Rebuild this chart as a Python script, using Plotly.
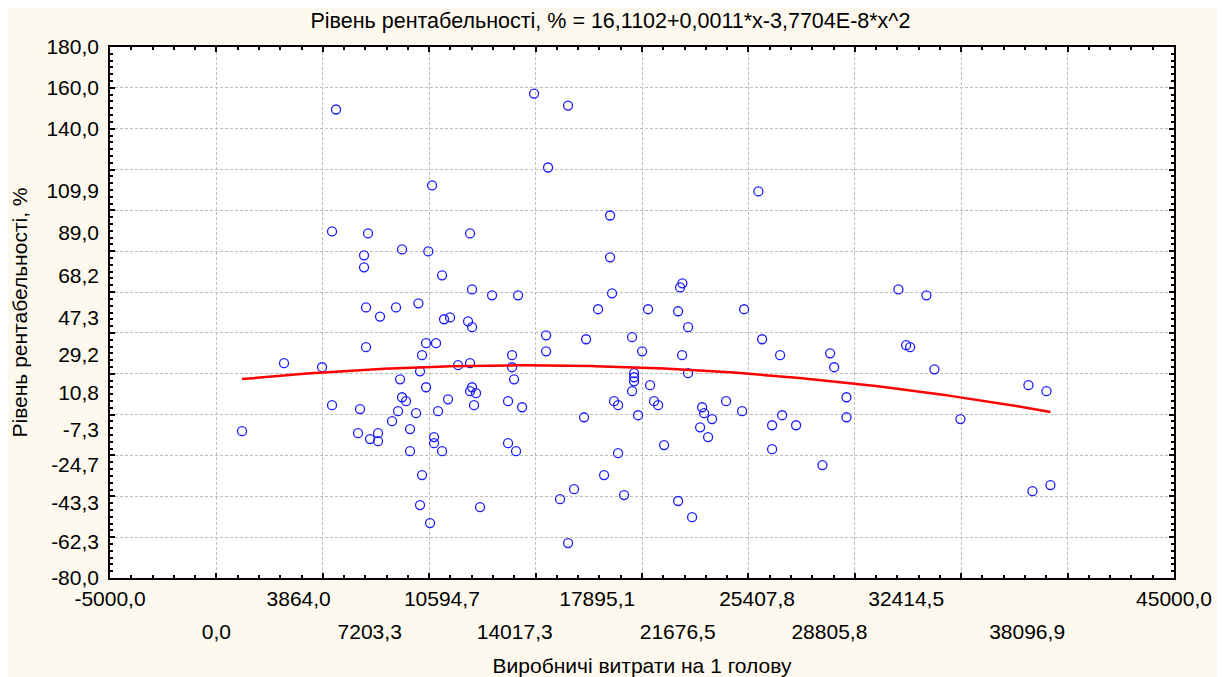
import plotly.graph_objects as go

# ---- data ----
cost_per_head = [
    5622, 10134, 5434, 7126, 8724, 9960, 6938, 6938, 10604, 7032, 8442, 9492, 7690,
    10698, 10980, 7032, 9852, 10322, 9664, 3178, 4964, 11356, 9570, 8630, 9852, 5434,
    8724, 8912, 10886, 6750, 8536, 9382, 10416, 8254, 1204, 6656, 7596, 7220, 7596,
    9100, 10228, 10228, 9100, 10604, 9664, 9570, 10040,
    14928, 16526, 15586, 25470, 18500, 11920, 18500, 12014, 12954, 14176, 18594,
    21898, 21790, 17936, 20286, 21696, 24798,
    11826, 12014, 22166, 15492, 17372, 19534, 25644, 15492, 20004, 13894, 21884, 26490,
    11920, 13894, 19628, 19628, 22166, 13988, 19628, 20380, 12014, 11920, 12202, 19534,
    13706, 18688, 20568, 23952, 12108, 14364, 18876, 20756, 22824, 24704, 17278, 19816,
    22918, 23294, 26584, 22730, 26114, 27242, 23106, 13706, 14082, 21038, 26114, 18876,
    18218, 16808, 16150, 19158, 21696, 12390, 22354, 16526,
    32050, 33366, 28840, 29028, 32412, 32600, 33742, 29608, 29608, 28480, 34964,
    38160, 39006, 38348, 39194,
]
profitability = [
    149.4, 112.2, 89.7, 88.7, 80.9, 79.9, 78.0, 72.1, 68.2, 52.5, 52.5, 54.5, 48.0,
    46.7, 47.6, 33.0, 35.0, 35.0, 29.1, 25.2, 23.2, 24.2, 21.2, 17.3, 13.4, 4.6,
    8.5, 6.6, 7.5, 2.7, 1.7, 0.7, 1.7, -3.2, -8.1, -9.1, -9.1, -12.0, -13.0,
    -7.1, -11.0, -14.0, -17.9, -17.9, -29.6, -44.3, -53.1,
    157.2, 151.3, 121.0, 109.3, 97.5, 88.7, 77.0, 61.3, 58.4, 58.4, 59.4,
    64.3, 62.3, 51.6, 51.6, 50.6, 51.6,
    45.7, 42.8, 42.8, 38.8, 36.9, 37.9, 36.9, 31.0, 31.0, 29.1, 29.1, 29.1,
    25.2, 23.2, 20.3, 18.3, 20.3, 17.3, 16.3, 14.4, 13.4, 11.5, 10.5, 11.5,
    6.6, 6.6, 6.6, 6.6, 4.6, 3.6, 4.6, 4.6, 3.6, 1.7, -1.3, -0.3,
    0.7, -2.2, -0.3, -6.2, -5.2, -5.2, -11.0, -14.0, -17.9, -14.9, -16.9, -18.9,
    -29.6, -36.5, -41.4, -39.4, -42.3, -45.3, -50.2, -62.9,
    61.3, 58.4, 30.0, 23.2, 34.0, 33.0, 22.2, 8.5, -1.3, -24.7, -2.2,
    14.4, 11.5, -37.5, -34.5,
]

# regression coefficients from the chart title
b0, b1, b2 = 16.1102, 0.0011, -3.7704e-8

x_ticks_row1 = [-5000.0, 3864.0, 10594.7, 17895.1, 25407.8, 32414.5, 45000.0]
x_ticks_row2 = [0.0, 7203.3, 14017.3, 21676.5, 28805.8, 38096.9]
y_ticks = [-80.0, -62.3, -43.3, -24.7, -7.3, 10.8, 29.2, 47.3, 68.2, 89.0, 109.9, 140.0, 160.0, 180.0]

TITLE = "Рівень рентабельності, % = 16,1102+0,0011*x-3,7704E-8*x^2"
X_TITLE = "Виробничі витрати на 1 голову"
Y_TITLE = "Рівень рентабельності, %"


def fmt(v):
    return f"{v:.1f}".replace(".", ",")


FONT = "Liberation Sans, Arial, sans-serif"
FS = 21
X_RANGE = [-5000, 45000]
Y_RANGE = [-80, 180]

# the page body has an 8px margin, so the figure is offset by 8px
W, H = 1217, 669

# fitted curve over the observed x span
xmin, xmax = min(cost_per_head), max(cost_per_head)
n = 200
fit_x = [xmin + (xmax - xmin) * i / (n - 1) for i in range(n)]
fit_y = [b0 + b1 * v + b2 * v * v for v in fit_x]

fig = go.Figure()
fig.add_trace(go.Scatter(
    x=cost_per_head, y=profitability, mode="markers",
    marker=dict(symbol="circle-open", size=9, color="#1c1cff", line=dict(width=1.3, color="#1c1cff")),
    showlegend=False, hoverinfo="skip",
))
fig.add_trace(go.Scatter(
    x=fit_x, y=fit_y, mode="lines", line=dict(color="#ff0000", width=2.5),
    showlegend=False, hoverinfo="skip",
))
# dummy traces so the label axes are drawn
fig.add_trace(go.Scatter(x=[None], y=[None], xaxis="x2", yaxis="y2", showlegend=False, hoverinfo="skip"))
fig.add_trace(go.Scatter(x=[None], y=[None], xaxis="x3", yaxis="y2", showlegend=False, hoverinfo="skip"))

grid_common = dict(
    showgrid=True, gridcolor="#bdbdbd", gridwidth=1, griddash="3px,2px",
    zeroline=False, showline=True, linecolor="black", linewidth=2, mirror="allticks",
    ticks="inside", ticklen=5, tickwidth=1.5, tickcolor="black", showticklabels=False,
    automargin=False,
)
tickfont = dict(family=FONT, size=FS, color="black")

fig.update_layout(
    width=W, height=H,
    paper_bgcolor="#fef9ee", plot_bgcolor="white",
    margin=dict(l=102, r=51, t=39, b=99, autoexpand=False),
    font=dict(family=FONT, size=FS, color="black"),
    title=dict(text=TITLE, x=0.495, xanchor="center", y=1 - 12 / H, yanchor="middle",
               font=dict(family=FONT, size=21.5, color="black")),
    xaxis=dict(range=X_RANGE, tickmode="linear", tick0=-5000, dtick=5000,
               minor=dict(dtick=1000, tick0=-5000, ticks="inside", ticklen=3, tickcolor="black", showgrid=False),
               **grid_common),
    yaxis=dict(range=Y_RANGE, tickmode="linear", tick0=-80, dtick=20,
               minor=dict(dtick=20 / 6, tick0=-80, ticks="inside", ticklen=3, tickcolor="black", showgrid=False),
               title=dict(text=Y_TITLE, standoff=75, font=tickfont),
               **grid_common),
    xaxis2=dict(overlaying="x", matches="x", anchor="y2", side="bottom", range=X_RANGE,
                tickmode="array", tickvals=x_ticks_row1, ticktext=[fmt(v) for v in x_ticks_row1],
                ticks="", showgrid=False, showline=False, zeroline=False, ticklabelstandoff=6,
                automargin=False, tickfont=tickfont),
    xaxis3=dict(overlaying="x", matches="x", anchor="y2", side="bottom", range=X_RANGE,
                tickmode="array", tickvals=x_ticks_row2, ticktext=[fmt(v) for v in x_ticks_row2],
                ticks="", showgrid=False, showline=False, zeroline=False, ticklabelstandoff=39,
                automargin=False,
                title=dict(text=X_TITLE, standoff=23, font=tickfont),
                tickfont=tickfont),
    yaxis2=dict(overlaying="y", matches="y", anchor="x2", side="left", range=Y_RANGE,
                tickmode="array", tickvals=y_ticks, ticktext=[fmt(v) for v in y_ticks],
                ticks="", showgrid=False, showline=False, zeroline=False, ticklabelstandoff=10,
                automargin=False, tickfont=tickfont),
    hovermode=False,
)

fig.write_html("out.html")
